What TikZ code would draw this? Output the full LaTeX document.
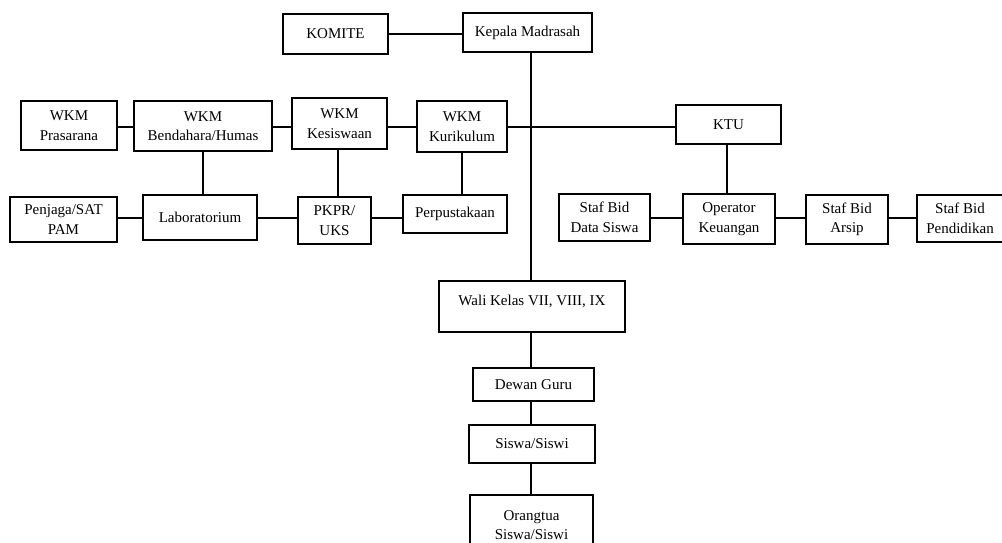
\documentclass[tikz,border=0pt]{standalone}
\usepackage{fontspec}
\setmainfont{Liberation Serif}

\tikzset{x=1pt, y=-1pt}
\tikzset{box/.style={draw, line width=1.2pt, align=center, inner sep=2pt,
    font=\fontsize{15}{19.5}\selectfont},
  link/.style={line width=1.2pt}}

\begin{document}
\begin{tikzpicture}
\useasboundingbox (0,0) rectangle (1002,542);
\clip (0,0) rectangle (1002,542);
% top
\node[box, minimum width=105pt, minimum height=40pt] (komite) at (335.5,34) {KOMITE};
\node[box, minimum width=129pt, minimum height=39pt] (kepala) at (527.5,32.5) {Kepala Madrasah};
\coordinate (spine) at (531,0);
\coordinate (rowa) at (0,127);
\coordinate (rowb) at (0,218);
% wkm row
\node[box, minimum width=96pt, minimum height=49pt] (prasarana) at (69,125.5) {WKM\\Prasarana};
\node[box, minimum width=138pt, minimum height=50pt] (bendahara) at (203,126) {WKM\\Bendahara/Humas};
\node[box, minimum width=95pt, minimum height=51pt] (kesiswaan) at (339.5,123.5) {WKM\\Kesiswaan};
\node[box, minimum width=90pt, minimum height=51pt] (kurikulum) at (462,126.5) {WKM\\Kurikulum};
\node[box, minimum width=105pt, minimum height=39pt] (ktu) at (728.5,124.5) {KTU};
% second row
\node[box, minimum width=107pt, minimum height=45pt] (penjaga) at (63.5,219.5) {Penjaga/SAT\\PAM};
\node[box, minimum width=114pt, minimum height=45pt] (lab) at (200,217.5) {Laboratorium};
\node[box, minimum width=73pt, minimum height=47pt] (pkpr) at (334.5,220.5) {PKPR/\\UKS};
\node[box, minimum width=104pt, minimum height=38pt] (perpus) at (455,214) {Perpustakaan};
\node[box, minimum width=91pt, minimum height=47pt] (datasiswa) at (604.5,217.5) {Staf Bid\\Data Siswa};
\node[box, minimum width=92pt, minimum height=50pt] (operator) at (729,219) {Operator\\Keuangan};
\node[box, minimum width=82pt, minimum height=49pt] (arsip) at (847,219.5) {Staf Bid\\Arsip};
\node[box, minimum width=86pt, minimum height=47pt] (pendidikan) at (960,218.5) {Staf Bid\\Pendidikan};
% spine boxes
\node[box, minimum width=186pt, minimum height=51pt, text height=10.5pt, text depth=13.5pt] (wali) at (532,306.5) {Wali Kelas VII, VIII, IX};
\node[box, minimum width=121pt, minimum height=33pt] (dewan) at (533.5,384.5) {Dewan Guru};
\node[box, minimum width=126pt, minimum height=38pt] (siswa) at (532,444) {Siswa/Siswi};
\node[box, minimum width=123pt, minimum height=60pt] (orangtua) at (531.5,525) {Orangtua\\Siswa/Siswi};

\draw[link] (komite.east) -- (komite.east -| kepala.west);
\draw[link] (kepala.south -| spine) -- (wali.north -| spine);
% first row
\draw[link] (prasarana.east |- rowa) -- (bendahara.west |- rowa);
\draw[link] (bendahara.east |- rowa) -- (kesiswaan.west |- rowa);
\draw[link] (kesiswaan.east |- rowa) -- (kurikulum.west |- rowa);
\draw[link] (kurikulum.east |- rowa) -- (ktu.west |- rowa);
\draw[link] (bendahara.south) -- (bendahara.south |- lab.north);
\draw[link] ([xshift=-1.5pt]kesiswaan.south) -- ([xshift=-1.5pt]kesiswaan.south |- pkpr.north);
\draw[link] (kurikulum.south) -- (kurikulum.south |- perpus.north);
\draw[link] ([xshift=-1.5pt]ktu.south) -- ([xshift=-1.5pt]ktu.south |- operator.north);
% second row
\draw[link] (penjaga.east |- rowb) -- (lab.west |- rowb);
\draw[link] (lab.east |- rowb) -- (pkpr.west |- rowb);
\draw[link] (pkpr.east |- rowb) -- (perpus.west |- rowb);
\draw[link] (datasiswa.east |- rowb) -- (operator.west |- rowb);
\draw[link] (operator.east |- rowb) -- (arsip.west |- rowb);
\draw[link] (arsip.east |- rowb) -- (pendidikan.west |- rowb);
% down the spine
\draw[link] (wali.south -| spine) -- (dewan.north -| spine);
\draw[link] (dewan.south -| spine) -- (siswa.north -| spine);
\draw[link] (siswa.south -| spine) -- (orangtua.north -| spine);
\end{tikzpicture}
\end{document}
